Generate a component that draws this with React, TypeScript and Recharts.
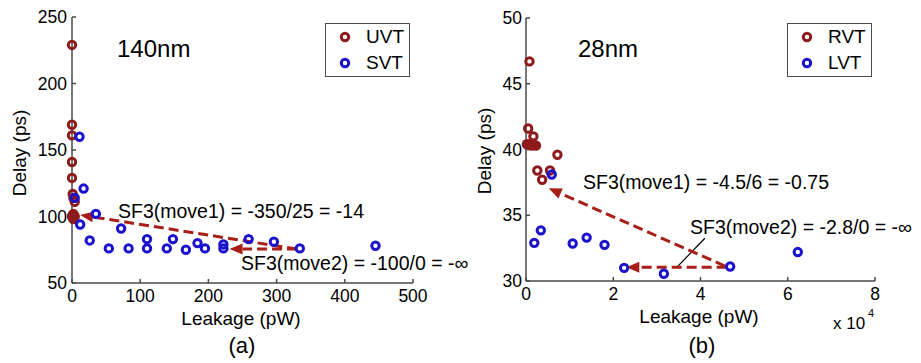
import React from 'react';
import { ScatterChart, Scatter, XAxis, YAxis, Legend, ReferenceLine } from 'recharts';

// 140nm panel (a)
const uvtLeak = [0, 0, 0, 0, 0, 1, 2, 4, 0, 4, 2, 2, 1, 3];
const uvtDelay = [229, 169, 161, 141, 129, 117, 114, 111, 100, 100, 98, 102, 101, 99];
const svtLeak = [11, 17, 4, 35, 12, 72, 26, 54, 83, 110, 110, 139, 148, 167, 184, 195, 222, 222, 259, 296, 334, 445];
const svtDelay = [160, 121, 114, 102, 94, 91, 82, 76, 76, 83, 76, 76, 83, 75, 80, 76, 79, 76, 83, 81, 76, 78];
const ticksA_x = [0, 100, 200, 300, 400, 500];
const ticksA_y = [50, 100, 150, 200, 250];
const seriesA = ['UVT', 'SVT'];

// 28nm panel (b), leakage in units of 1e4 pW
const rvtLeak = [0.08, 0.05, 0.17, 0.02, 0.08, 0.13, 0.18, 0.23, 0.72, 0.26, 0.55, 0.37];
const rvtDelay = [46.7, 41.6, 41.0, 40.4, 40.4, 40.3, 40.35, 40.3, 39.6, 38.4, 38.4, 37.7];
const lvtLeak = [0.59, 0.19, 0.34, 1.07, 1.39, 1.8, 2.25, 3.16, 4.68, 6.23];
const lvtDelay = [38.1, 32.9, 33.85, 32.85, 33.3, 32.75, 31.0, 30.55, 31.1, 32.2];
const ticksB_x = [0, 2, 4, 6, 8];
const ticksB_y = [30, 35, 40, 45, 50];
const seriesB = ['RVT', 'LVT'];

// arrows: [fromX, fromY, toX, toY]
const arrowsA = [[330, 75.5, 12, 101.2], [330, 75.5, 231, 75.5]];
const arrowsB = [[4.56, 31.14, 0.52, 37.05], [4.6, 31.05, 2.3, 31.05]];
const leaderB = [[4.1, 33.25], [3.45, 31.02]];

const zip = (xs: number[], ys: number[]) => xs.map((x, i) => ({ x, y: ys[i] }));

const FONT = '"Liberation Sans", Arial, Helvetica, sans-serif';
const RED = '#8e1b1b';
const BLUE = '#1a12cc';
const ARROW = '#a81f1a';
const AXIS = '#4a4a4a';

const Ring = (color: string) => (p: any) => (
  <circle cx={p.cx} cy={p.cy} r={3.7} fill="none" stroke={color} strokeWidth={3} />
);

const Arrow = (p: any) => {
  const { x1, y1, x2, y2 } = p;
  const a = Math.atan2(y2 - y1, x2 - x1);
  const L = 13;
  const W = 5.5;
  const bx = x2 - L * Math.cos(a);
  const by = y2 - L * Math.sin(a);
  const px = -Math.sin(a) * W;
  const py = Math.cos(a) * W;
  return (
    <g>
      <line x1={x1} y1={y1} x2={bx} y2={by} stroke={ARROW} strokeWidth={3} strokeDasharray="10 5" />
      <polygon points={`${x2},${y2} ${bx + px},${by + py} ${bx - px},${by - py}`} fill={ARROW} />
    </g>
  );
};

const LegendBox = (order: string[]) => (props: any) => {
  const items = [...(props.payload || [])].sort((a: any, b: any) => order.indexOf(a.value) - order.indexOf(b.value));
  return (
    <div style={{ position: 'relative', width: 85, height: 54, border: `1.5px solid ${AXIS}`, background: '#fff', boxSizing: 'border-box', fontFamily: FONT, fontSize: 19 }}>
      {items.map((e: any, i: number) => (
        <div key={e.value} style={{ position: 'absolute', left: 0, top: 13 + i * 26 - 12, height: 24, display: 'flex', alignItems: 'center' }}>
          <svg width={40} height={24}>
            <circle cx={19} cy={12} r={3.7} fill="none" stroke={e.color} strokeWidth={3} />
          </svg>
          <span style={{ color: '#000', lineHeight: '24px' }}>{e.value}</span>
        </div>
      ))}
    </div>
  );
};

const tickStyle = { fill: '#000', fontSize: 17.5, fontFamily: FONT };

const RotLabel = (x: number, y: number, text: string) => () => (
  <text x={x} y={y} transform={`rotate(-90, ${x}, ${y})`} textAnchor="middle" fontSize={19} fontFamily={FONT} fill="#000">
    {text}
  </text>
);

const XLabel = (x: number, y: number, text: string) => () => (
  <text x={x} y={y} textAnchor="middle" fontSize={19} fontFamily={FONT} fill="#000">
    {text}
  </text>
);

const App = () => {
  const uvt = zip(uvtLeak, uvtDelay);
  const svt = zip(svtLeak, svtDelay);
  const rvt = zip(rvtLeak, rvtDelay);
  const lvt = zip(lvtLeak, lvtDelay);

  return (
    <div style={{ position: 'absolute', left: 0, top: 0, width: 921, height: 363, background: '#fff', fontFamily: FONT }}>
      <div style={{ position: 'absolute', left: 0, top: 0 }}>
        <ScatterChart width={460} height={363} margin={{ top: 17, right: 47, bottom: 0, left: 0 }}>
          <XAxis type="number" dataKey="x" domain={[0, 500]} ticks={ticksA_x} height={80}
            stroke={AXIS} strokeWidth={1.5} tickSize={-4} tickMargin={11} tick={tickStyle}
            label={XLabel(241, 325, 'Leakage (pW)')} />
          <YAxis type="number" dataKey="y" domain={[50, 250]} ticks={ticksA_y} width={72}
            stroke={AXIS} strokeWidth={1.5} tickSize={-4} tickMargin={9} tick={tickStyle}
            label={RotLabel(26, 153, 'Delay (ps)')} />
          <Legend layout="horizontal" verticalAlign="middle" align="center" content={LegendBox(seriesA)}
            wrapperStyle={{ left: 325, top: 23, width: 85, height: 54 }} />
          <Scatter name="UVT" data={uvt} fill={RED} shape={Ring(RED)} isAnimationActive={false} />
          <Scatter name="SVT" data={svt} fill={BLUE} shape={Ring(BLUE)} isAnimationActive={false} />
          {arrowsA.map((a, i) => (
            <ReferenceLine key={i} segment={[{ x: a[0], y: a[1] }, { x: a[2], y: a[3] }]} shape={Arrow} />
          ))}
        </ScatterChart>
      </div>
      <div style={{ position: 'absolute', left: 460, top: 0 }}>
        <ScatterChart width={461} height={363} margin={{ top: 18, right: 46, bottom: 0, left: 0 }}>
          <XAxis type="number" dataKey="x" domain={[0, 8]} ticks={ticksB_x} height={82}
            stroke={AXIS} strokeWidth={1.5} tickSize={-4} tickMargin={11} tick={tickStyle}
            label={XLabel(239, 323, 'Leakage (pW)')} />
          <YAxis type="number" dataKey="y" domain={[30, 50]} ticks={ticksB_y} width={66}
            stroke={AXIS} strokeWidth={1.5} tickSize={-4} tickMargin={8} tick={tickStyle}
            label={RotLabel(31, 151, 'Delay (ps)')} />
          <Legend layout="horizontal" verticalAlign="middle" align="center" content={LegendBox(seriesB)}
            wrapperStyle={{ left: 327, top: 23, width: 85, height: 54 }} />
          <Scatter name="RVT" data={rvt} fill={RED} shape={Ring(RED)} isAnimationActive={false} />
          <Scatter name="LVT" data={lvt} fill={BLUE} shape={Ring(BLUE)} isAnimationActive={false} />
          <ReferenceLine segment={[{ x: leaderB[0][0], y: leaderB[0][1] }, { x: leaderB[1][0], y: leaderB[1][1] }]} stroke="#000" strokeWidth={1.2} />
          {arrowsB.map((a, i) => (
            <ReferenceLine key={i} segment={[{ x: a[0], y: a[1] }, { x: a[2], y: a[3] }]} shape={Arrow} />
          ))}
        </ScatterChart>
      </div>
      <svg width={921} height={363} style={{ position: 'absolute', left: 0, top: 0, pointerEvents: 'none' }} fontFamily={FONT} fill="#000">
        <text x={117} y={57} fontSize={24}>140nm</text>
        <text x={578} y={57} fontSize={24}>28nm</text>
        <text x={118} y={218} fontSize={19.5}>SF3(move1) = -350/25 = -14</text>
        <text x={241} y={270} fontSize={19.5}>SF3(move2) = -100/0 = -∞</text>
        <text x={583} y={189} fontSize={19.5}>SF3(move1) = -4.5/6 = -0.75</text>
        <text x={690} y={234} fontSize={19.5}>SF3(move2) = -2.8/0 = -∞</text>
        <text x={242} y={353} fontSize={22} textAnchor="middle">(a)</text>
        <text x={702} y={353} fontSize={22} textAnchor="middle">(b)</text>
        <text x={833} y={329} fontSize={17}>x 10</text>
        <text x={868} y={317} fontSize={11}>4</text>
      </svg>
    </div>
  );
};

export default App;
